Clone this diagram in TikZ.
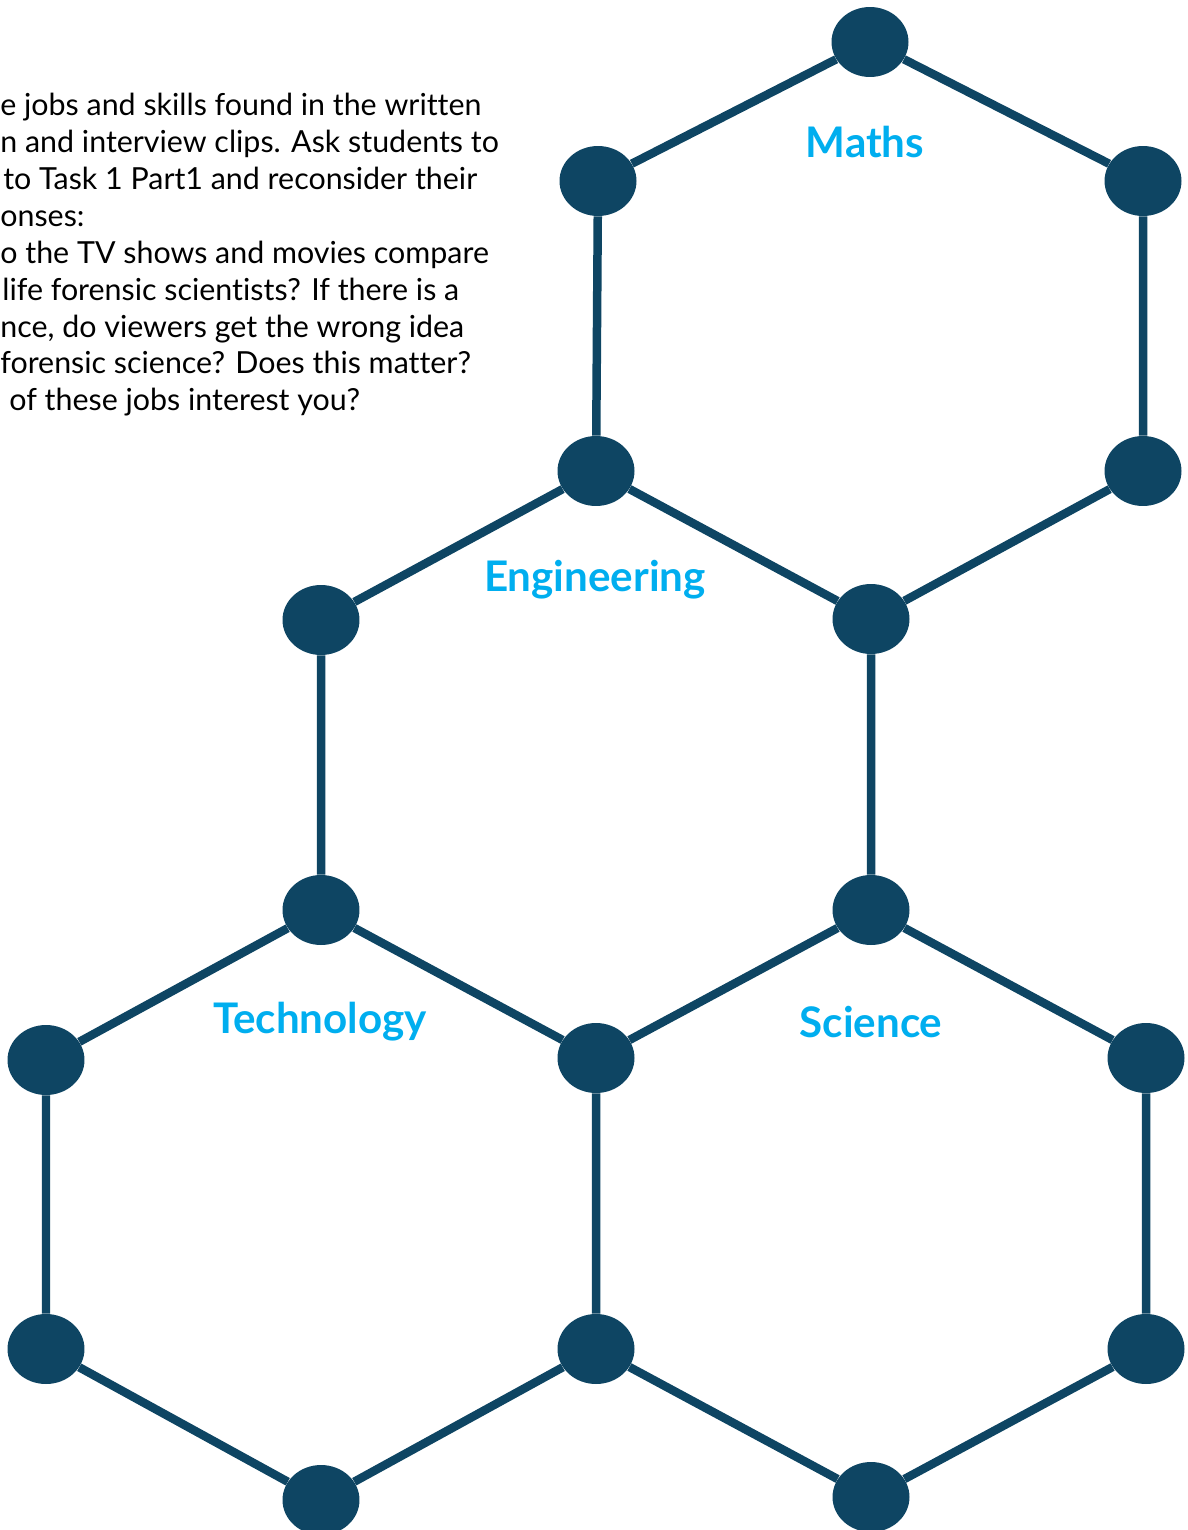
\documentclass[tikz,border=0pt]{standalone}
\usepackage{fontspec}
\setmainfont{Lato}[Ligatures=NoCommon]
\usepackage{tikz}
\usetikzlibrary{positioning,shapes.geometric}
\definecolor{hexblue}{RGB}{14,69,99}
\definecolor{labelcyan}{RGB}{0,174,239}
\tikzset{
	atom/.style={ellipse, fill=hexblue, inner sep=0pt, minimum width=1.54cm, minimum height=1.40cm},
	bond/.style={draw=hexblue, line width=0.17cm},
	subject/.style={text=labelcyan, font=\fontsize{24}{28}\selectfont\bfseries},
	note/.style={anchor=base west, inner sep=0pt, font=\fontsize{17.3}{21}\selectfont},
}

\begin{document}
\begin{tikzpicture}[x=0.02cm,y=-0.02cm]
	\useasboundingbox (0,0) rectangle (1187,1530);
	%% text at the top left
	\node[note] (t1) at (0,116) {e jobs and skills found in the written};
	\node[note] (t2) at (0,153) {n and interview clips. Ask students to};
	\node[note] (t3) at (3,190) {to Task 1 Part1 and reconsider their};
	\node[note] (t4) at (0,227) {onses:};
	\node[note] (t5) at (0,264) {o the TV shows and movies compare};
	\node[note] (t6) at (2,301) {life forensic scientists? If there is a};
	\node[note] (t7) at (0,338) {nce, do viewers get the wrong idea};
	\node[note] (t8) at (0,374) {forensic science? Does this matter?};
	\node[note] (t9) at (9,411) {of these jobs interest you?};
	%% atoms
	\node[atom] (a1) at (870,42) {};
	\node[atom] (a2) at (598,181) {};
	\node[atom] (a3) at (1143,181) {};
	\node[atom] (a4) at (596,471) {};
	\node[atom] (a5) at (1143,471) {};
	\node[atom] (a6) at (321,620) {};
	\node[atom] (a7) at (871,619) {};
	\node[atom] (a8) at (321,910) {};
	\node[atom] (a9) at (871,910) {};
	\node[atom] (a10) at (46,1060) {};
	\node[atom] (a11) at (596,1058) {};
	\node[atom] (a12) at (1146,1058) {};
	\node[atom] (a13) at (46,1349) {};
	\node[atom] (a14) at (596,1349) {};
	\node[atom] (a15) at (1146,1349) {};
	\node[atom] (a16) at (321,1500) {};
	\node[atom] (a17) at (871,1497) {};
	% bonds between the atoms
	\draw[bond] (a1) -- (a2) (a1) -- (a3) (a2) -- (a4) (a3) -- (a5)
		(a4) -- (a7) (a5) -- (a7) (a4) -- (a6) (a6) -- (a8) (a7) -- (a9)
		(a8) -- (a11) (a9) -- (a11) (a8) -- (a10) (a9) -- (a12)
		(a10) -- (a13) (a11) -- (a14) (a12) -- (a15)
		(a13) -- (a16) (a14) -- (a16) (a14) -- (a17) (a15) -- (a17);
	%% subject labels
	\node[subject] (maths) at (865,142) {Maths};
	\node[subject] (eng) at (595,580) {Engineering};
	\node[subject] (tech) at (320,1022) {Technology};
	\node[subject] (sci) at (871,1022) {Science};
\end{tikzpicture}
\end{document}
